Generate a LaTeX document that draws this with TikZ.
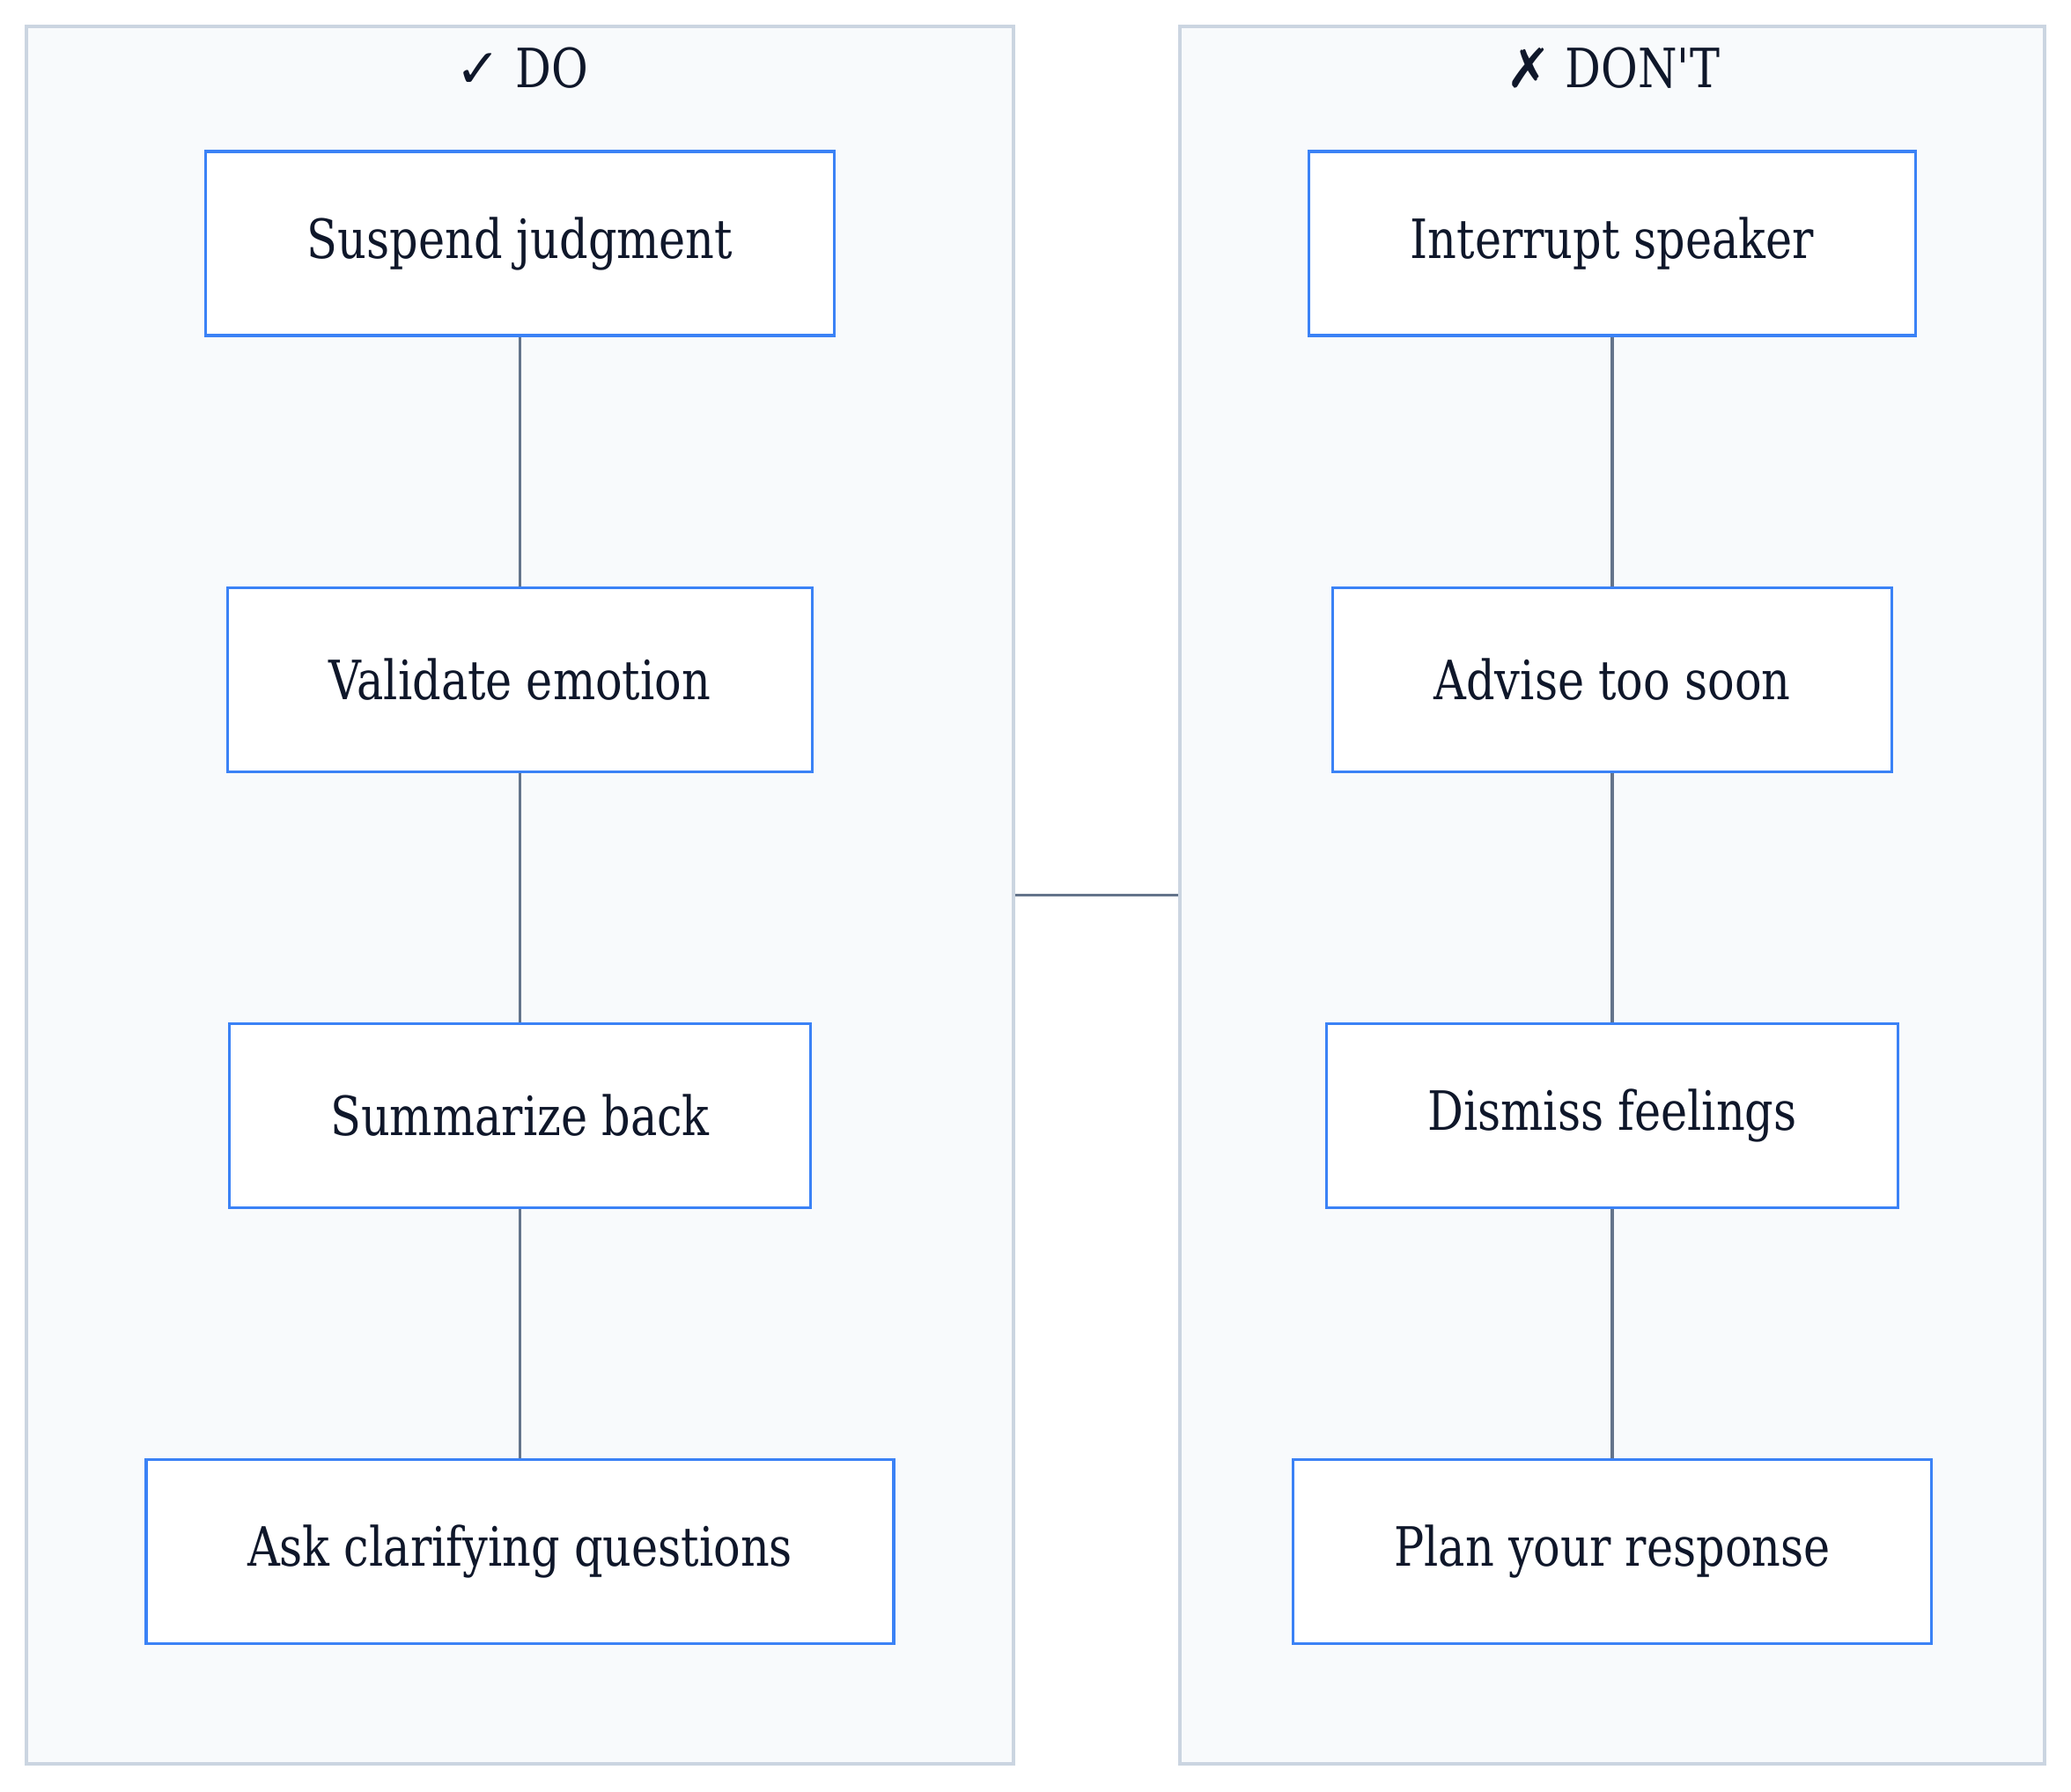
\documentclass[tikz,border=0pt]{standalone}
\usepackage{fontspec}
\setmainfont[FakeStretch=0.92]{DejaVu Serif Condensed}
\newfontfamily\symfont{DejaVu Sans}
\usetikzlibrary{positioning}

\definecolor{inkc}{HTML}{0F172A}
\definecolor{edgec}{HTML}{3B82F6}
\definecolor{panelfill}{HTML}{F8FAFC}
\definecolor{paneldraw}{HTML}{CBD5E1}
\definecolor{linkc}{HTML}{64748B}

\begin{document}
\begin{tikzpicture}[
      node distance=2.83cm,
      panel/.style={rectangle, draw=paneldraw, fill=panelfill, line width=1.1pt,
                    minimum width=11.21cm, minimum height=19.73cm, inner sep=0pt},
      box/.style={rectangle, draw=edgec, fill=white, line width=0.9pt,
                  minimum height=2.09cm, inner xsep=1.15cm, text=inkc,
                  font=\fontsize{17.5}{21}\selectfont},
      head/.style={text=inkc, font=\fontsize{17.5}{21}\selectfont},
      link/.style={draw=linkc, line width=0.9pt}
    ]
    \useasboundingbox (0,0) rectangle (23.52,-20.34);

    % panels
    \node[panel] (dopanel) at (5.905,-10.165) {};
    \node[panel, minimum width=9.82cm] (dontpanel) at (18.31,-10.165) {};
    \draw[link] (dopanel.east) -- (dontpanel.west);

    \node[head] (dohead) at (5.93,-0.77) {{\symfont ✓} DO};
    \node[head] (donthead) at (18.32,-0.77) {{\symfont ✗} DON\textquotesingle T};

    % do column
    \node[box] (suspend) at (5.905,-2.765) {Suspend judgment};
    \node[box, below=of suspend] (validate) {Validate emotion};
    \node[box, below=of validate] (summarize) {Summarize back};
    \node[box, below=of summarize] (clarify) {Ask clarifying questions};

    % don't column
    \node[box] (interrupt) at (18.31,-2.765) {Interrupt speaker};
    \node[box, below=of interrupt] (advise) {Advise too soon};
    \node[box, below=of advise] (dismiss) {Dismiss feelings};
    \node[box, below=of dismiss] (plan) {Plan your response};

    \draw[link] (suspend) -- (validate);
    \draw[link] (validate) -- (summarize);
    \draw[link] (summarize) -- (clarify);
    \draw[link] (interrupt) -- (advise);
    \draw[link] (advise) -- (dismiss);
    \draw[link] (dismiss) -- (plan);

  \end{tikzpicture}
\end{document}
